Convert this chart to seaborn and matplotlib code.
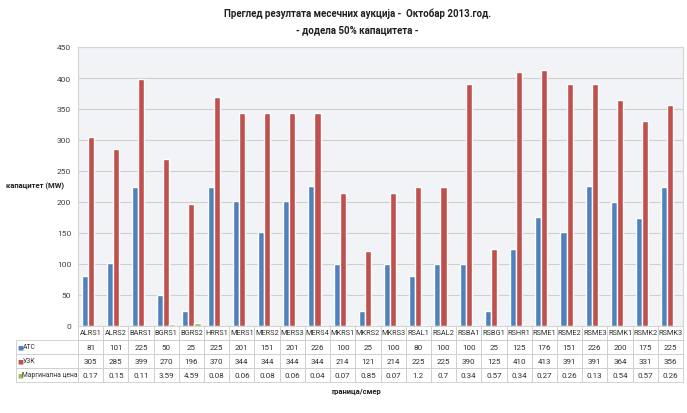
import pandas as pd
import matplotlib.pyplot as plt
import seaborn as sns

borders = ['ALRS1', 'ALRS2', 'BARS1', 'BGRS1', 'BGRS2', 'HRRS1', 'MERS1', 'MERS2',
           'MERS3', 'MERS4', 'MKRS1', 'MKRS2', 'MKRS3', 'RSAL1', 'RSAL2', 'RSBA1',
           'RSBG1', 'RSHR1', 'RSME1', 'RSME2', 'RSME3', 'RSMK1', 'RSMK2', 'RSMK3']
atc = [81, 101, 225, 50, 25, 225, 201, 151, 201, 226, 100, 25, 100, 80, 100, 100,
       25, 125, 176, 151, 226, 200, 175, 225]
uzk = [305, 285, 399, 270, 196, 370, 344, 344, 344, 344, 214, 121, 214, 225, 225, 390,
       125, 410, 413, 391, 391, 364, 331, 356]
marg = [0.17, 0.15, 0.11, 3.59, 4.59, 0.08, 0.06, 0.08, 0.06, 0.04, 0.07, 0.85, 0.07,
        1.2, 0.7, 0.34, 0.57, 0.34, 0.27, 0.26, 0.13, 0.54, 0.57, 0.26]
series = ['ATC', 'УЗК', 'Маргинална цена']
colors = ['#4f81bd', '#c0504d', '#9bbb59']

df = pd.DataFrame({'граница': borders * 3,
                   'серија': [s for s in series for _ in borders],
                   'вредност': atc + uzk + marg})

sns.set_theme(style='white')
plt.rcParams['font.family'] = ['Roboto', 'DejaVu Sans']

fig = plt.figure(figsize=(6.87, 4.14), dpi=100)
ax = fig.add_axes([78 / 687, 1 - 327 / 414, 605 / 687, 279 / 414])
ax.set_facecolor('#f1f3f6')

sns.barplot(data=df, x='граница', y='вредност', hue='серија', palette=colors,
            width=0.72, gap=0, ax=ax, legend=False, saturation=1)

ax.set_ylim(0, 450)
ax.set_yticks(range(0, 451, 50))
ax.yaxis.grid(True, color='#cfcfcf', linewidth=0.8)
ax.set_axisbelow(True)
ax.tick_params(axis='y', labelsize=6, length=0, colors='#404040', pad=5)
ax.set_xticks([])
ax.set_xlabel('')
ax.set_ylabel('')
for sp in ax.spines.values():
    sp.set_color('#d4d4d4')
    sp.set_linewidth(0.8)

# data table under the plot
lw = 62 / 605
th = 56 / 279
cell_text = [borders,
             [str(v) for v in atc],
             [str(v) for v in uzk],
             [str(v) for v in marg]]
cell_text = [[''] + row for row in cell_text]
col_w = [lw] + [1 / 24] * 24
tbl = ax.table(cellText=cell_text, colWidths=col_w, cellLoc='center',
               bbox=[-lw, -th, 1 + lw, th])
tbl.auto_set_font_size(False)
for (r, c), cell in tbl.get_celld().items():
    cell.set_edgecolor('#cccccc')
    cell.set_linewidth(0.6)
    cell.set_facecolor('white')
    cell.get_text().set_fontsize(5.3 if r == 0 else 5.8)
    cell.get_text().set_color('#303030')
    if r == 0 and c == 0:
        cell.visible_edges = ''
for i, (name, col) in enumerate(zip(series, colors)):
    y = -th * (i + 1.5) / 4
    ax.text(-lw + 0.002, y, '■', color=col, fontsize=4.5,
            transform=ax.transAxes, ha='left', va='center', family='DejaVu Sans', zorder=10)
    ax.text(-lw + 0.0105, y, name, color='#303030', fontsize=4.9,
            transform=ax.transAxes, ha='left', va='center', zorder=10)

fig.text(0.52, 1 - 14 / 414, 'Преглед резултата месечних аукција -  Октобар 2013.год.',
         ha='center', va='center', fontsize=7, fontweight='bold', color='#202020')
fig.text(0.52, 1 - 30 / 414, '- додела 50% капацитета -',
         ha='center', va='center', fontsize=7, fontweight='bold', color='#202020')
fig.text(35 / 687, 1 - 186 / 414, 'капацитет (MW)', ha='center', va='center',
         fontsize=5.5, fontweight='bold', color='#202020')
fig.text(357 / 687, 1 - 392 / 414, 'граница/смер', ha='center', va='center',
         fontsize=5.5, fontweight='bold', color='#202020')

plt.savefig('out.png', dpi=100)
